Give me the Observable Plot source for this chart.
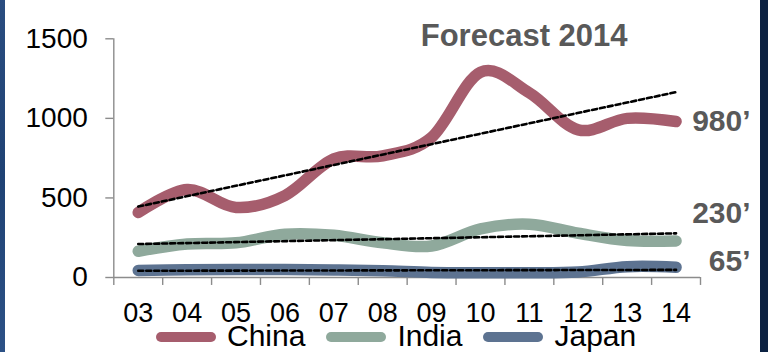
<!DOCTYPE html>
<html>
<head>
<meta charset="utf-8">
<script src="https://cdn.jsdelivr.net/npm/d3@7"></script>
<script src="https://cdn.jsdelivr.net/npm/@observablehq/plot@0.6"></script>
<style>
  html, body { margin: 0; padding: 0; }
  body {
    width: 768px; height: 352px; overflow: hidden; position: relative;
    background: #0c2242;
    font-family: "Liberation Sans", Arial, sans-serif;
  }
  #edge { position: absolute; left: 0; top: 0; width: 5px; height: 352px;
    background: linear-gradient(180deg, #2a4d80, #1f4274 50%, #2c5186); }
  #panel { position: absolute; left: 5px; top: 0; width: 755px; height: 352px; background: #fff; }
  #chart { position: absolute; left: 0; top: 0; }
  #chart svg g[aria-label^="y-axis"] line,
  #chart svg g[aria-label^="y-axis"] path { stroke: #8c8c8c; stroke-width: 1.4; }
  #chart svg g[aria-label^="y-axis"] text { font-size: 28px; }
  #chart svg g[aria-label^="x-axis"] text { font-size: 27px; }
  #legend { position: absolute; left: 156px; top: 325px; height: 22px;
    display: flex; align-items: center; font-size: 30px; line-height: 22px; color: #000; }
  #legend .item { display: flex; align-items: center; margin-right: 21px; }
  #legend .sw { width: 60px; height: 10px; border-radius: 5px; margin-top: 1px; margin-right: 11px; }
</style>
</head>
<body>
<div id="edge"></div>
<div id="panel"></div>
<div id="chart"></div>
<div id="legend"></div>
<script>
// Years shown on the category axis
const years = ["03", "04", "05", "06", "07", "08", "09", "10", "11", "12", "13", "14"];

// Series values by year
const china = [408, 553, 440, 515, 745, 765, 880, 1290, 1160, 928, 1000, 980];
const india = [165, 210, 218, 272, 265, 218, 198, 305, 335, 278, 232, 230];
const japan = [44, 48, 50, 50, 47, 42, 32, 30, 30, 35, 68, 65];

const seriesNames = ["China", "India", "Japan"];
const seriesColors = ["#a65d6d", "#8fa99c", "#5d7391"];

// End-of-line value labels
const endLabels = ["980’", "230’", "65’"];

const yTicks = [0, 500, 1000, 1500];
const forecastTitle = "Forecast 2014";

const seriesValues = [china, india, japan];
const rows = seriesNames.flatMap((name, s) =>
  seriesValues[s].map((v, i) => ({series: name, i, value: v})));

const labelShift = {China: 0, India: -28, Japan: -6};
const gray = "#595959";
const boundaries = d3.range(years.length + 1).map(k => k - 0.5);

const marks = [
  // y axis line and category tick marks between years
  Plot.ruleX([-0.5], {y1: 0, y2: 1500, stroke: "#8c8c8c", strokeWidth: 1.4}),
  Plot.ruleX(boundaries, {y1: 0, y2: -50, stroke: "#8c8c8c", strokeWidth: 1.4}),
  Plot.ruleY([0], {stroke: "#8c8c8c", strokeWidth: 1.4}),
  // smoothed series lines
  Plot.line(rows, {
    x: "i", y: "value", z: "series",
    stroke: d => seriesColors[seriesNames.indexOf(d.series)],
    strokeWidth: 11.5, curve: "cardinal", tension: 0,
    strokeLinecap: "round", strokeLinejoin: "round"
  }),
  // dashed linear trends
  ...seriesNames.map(name => Plot.linearRegressionY(rows.filter(d => d.series === name), {
    x: "i", y: "value", stroke: "#000", strokeWidth: 2.6,
    strokeDasharray: "5,3", ci: 0
  })),
  // value labels at the right end
  ...seriesNames.map((name, s) => Plot.text([{i: years.length - 1, value: seriesValues[s][years.length - 1], label: endLabels[s]}], {
    x: "i", y: "value", text: "label", textAnchor: "end", lineAnchor: "middle",
    dx: 74.5, dy: labelShift[name], fill: gray, fontWeight: "bold", fontSize: 30
  })),
  Plot.text([forecastTitle], {
    frameAnchor: "top", lineAnchor: "middle", dx: 117, dy: -3.2,
    fill: gray, fontWeight: "bold", fontSize: 31
  })
];

const chart = Plot.plot({
  width: 768,
  height: 324,
  marginLeft: 113.3,
  marginRight: 68,
  marginTop: 38.3,
  marginBottom: 47,
  style: {background: "transparent", fontFamily: "'Liberation Sans', Arial, sans-serif", color: "#000", overflow: "visible"},
  x: {domain: [-0.5, years.length - 0.5], ticks: d3.range(years.length), tickFormat: i => years[i],
      tickSize: 0, tickPadding: 25.5, label: null},
  y: {domain: [0, 1500], ticks: yTicks, tickFormat: d => String(d), tickSize: 8, tickPadding: 18, label: null},
  marks
});
document.getElementById("chart").appendChild(chart);

// Legend below the plot
const legend = d3.select("#legend");
seriesNames.forEach((name, s) => {
  const item = legend.append("div").attr("class", "item");
  item.append("div").attr("class", "sw").style("background", seriesColors[s]);
  item.append("span").text(name);
});
</script>
</body>
</html>
